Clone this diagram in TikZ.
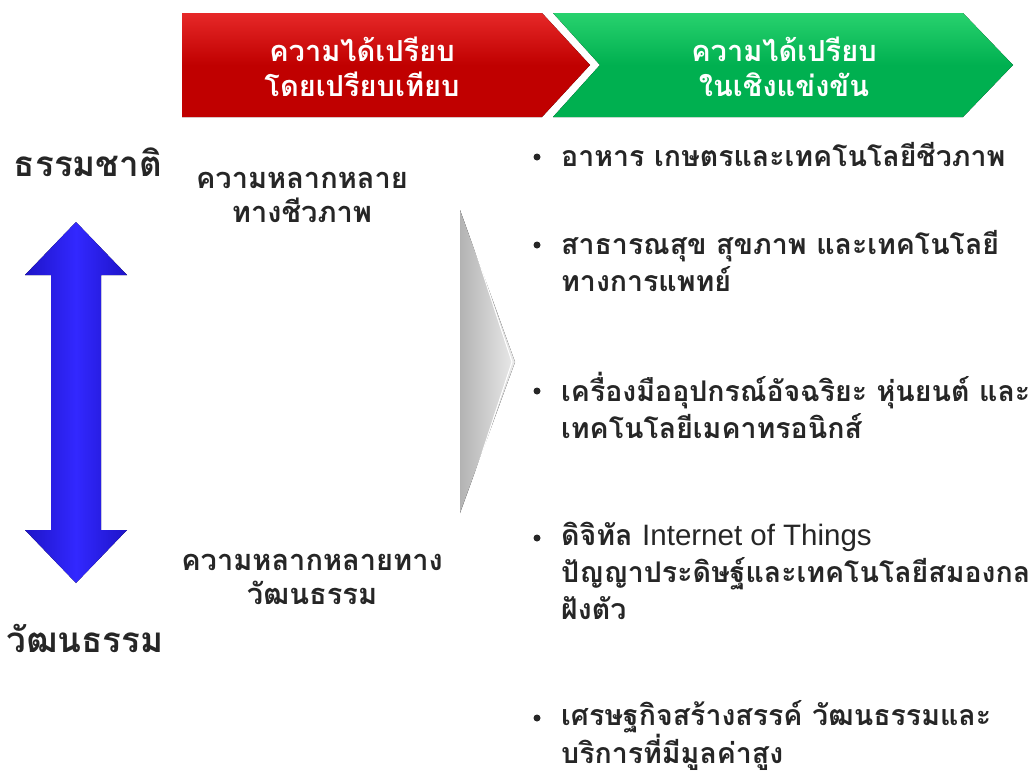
\documentclass[tikz,border=0pt]{standalone}
\usepackage{fontspec}
\newfontfamily\thai[Script=Thai]{Loma}
\newfontfamily\latin{Liberation Sans}
\usetikzlibrary{shadings}
\definecolor{chevred}{RGB}{192,0,0}
\definecolor{chevredlt}{RGB}{230,40,40}
\definecolor{chevgreen}{RGB}{0,176,80}
\definecolor{chevgreenlt}{RGB}{40,210,110}
\definecolor{arrowblue}{RGB}{50,40,255}
\definecolor{arrowbluedk}{RGB}{30,20,200}
\tikzset{
  head/.style={text=white,font=\thai\bfseries\fontsize{29}{35}\selectfont,align=center,inner sep=0pt},
  endlabel/.style={font=\thai\bfseries\fontsize{35}{40}\selectfont,text=black!85,inner sep=0pt},
  divlabel/.style={font=\thai\bfseries\fontsize{29}{34}\selectfont,align=center,text=black!85,inner sep=0pt},
  item/.style={font=\thai\bfseries\fontsize{28.5}{37}\selectfont,align=left,anchor=north west,inner sep=0pt,text=black!85},
  bul/.style={circle,fill=black!85,inner sep=0pt,minimum size=7pt},
}
\begin{document}
\begin{tikzpicture}[x=1pt,y=-1pt]
\useasboundingbox (0,0) rectangle (1036,774);
% red chevron
\fill[top color=chevredlt,bottom color=chevred,middle color=chevred] (182,13) -- (542,13) -- (590,65) -- (542,117) -- (182,117) -- cycle;
% green chevron
\fill[top color=chevgreenlt,bottom color=chevgreen,middle color=chevgreen] (553,13) -- (963,13) -- (1013,65) -- (963,117) -- (553,117) -- (600,65) -- cycle;
\node[head] (h1) at (362,67) {ความได้เปรียบ\\โดยเปรียบเทียบ};
\node[head] (h2) at (784,67) {ความได้เปรียบ\\ในเชิงแข่งขัน};
% blue double arrow
\fill[left color=arrowbluedk,right color=arrowbluedk,middle color=arrowblue]
  (76,222) -- (127,275) -- (101,275) -- (101,530) -- (127,530) -- (76,583) -- (25,530) -- (51,530) -- (51,275) -- (25,275) -- cycle;
\node[endlabel] (nat) at (88,162) {ธรรมชาติ};
\node[endlabel] (cul) at (85,638) {วัฒนธรรม};
\node[divlabel] (bio) at (302,197) {ความหลากหลาย\\ทางชีวภาพ};
\node[divlabel] (cd) at (312,579) {ความหลากหลายทาง\\วัฒนธรรม};
% gray chevron
\fill[left color=black!30,right color=black!8] (460,210) -- (515,362) -- (460,513) -- cycle;
\draw[white,line width=1pt] (466,222) -- (512,362) -- (466,502);
% bullets
\node[item] (i1) at (561,142) {อาหาร เกษตรและเทคโนโลยีชีวภาพ};
\node[item] (i2) at (561,230) {สาธารณสุข สุขภาพ และเทคโนโลยี\\ทางการแพทย์};
\node[item] (i3) at (561,372) {เครื่องมืออุปกรณ์อัจฉริยะ หุ่นยนต์ และ\\เทคโนโลยีเมคาทรอนิกส์};
\node[item] (i4) at (561,522) {ดิจิทัล {\latin\mdseries\fontsize{29.5}{37}\selectfont Internet of Things}\\ปัญญาประดิษฐ์และเทคโนโลยีสมองกล\\ฝังตัว};
\node[item,font=\thai\bfseries\fontsize{28.5}{35}\selectfont] (i5) at (561,700) {เศรษฐกิจสร้างสรรค์ วัฒนธรรมและ\\บริการที่มีมูลค่าสูง};
\foreach \n/\y in {b1/157,b2/245,b3/391,b4/538,b5/718}
  \node[bul] (\n) at (537,\y) {};
\end{tikzpicture}
\end{document}
